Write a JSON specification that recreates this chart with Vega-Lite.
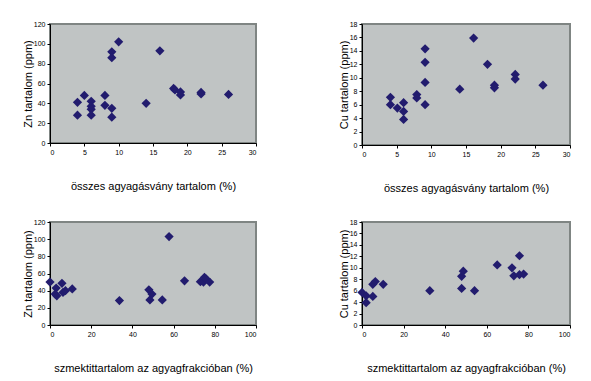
{
  "$schema": "https://vega.github.io/schema/vega-lite/v6.json",
  "background": "white",
  "padding": {"left": 21, "top": 19, "right": 5, "bottom": 5},
  "config": {
    "font": "Liberation Sans",
    "view": {"fill": "#c0c4c4", "stroke": "#7f8583", "strokeWidth": 2},
    "axis": {
      "grid": false,
      "domainColor": "black",
      "tickColor": "black",
      "tickSize": 3,
      "labelFontSize": 7,
      "labelColor": "black",
      "labelPadding": 2,
      "titleFontSize": 11,
      "titleFontWeight": "normal",
      "titleColor": "black"
    },
    "axisX": {"titlePadding": 25},
    "axisY": {"titlePadding": 0}
  },
  "datasets": {
    "zn_clay": [
      {"x": 4, "y": 41}, {"x": 4, "y": 28}, {"x": 5, "y": 48}, {"x": 6, "y": 42},
      {"x": 6, "y": 37}, {"x": 6, "y": 34}, {"x": 6, "y": 28}, {"x": 8, "y": 48},
      {"x": 8, "y": 38}, {"x": 9, "y": 35}, {"x": 9, "y": 26}, {"x": 9, "y": 92},
      {"x": 9, "y": 86}, {"x": 10, "y": 102}, {"x": 14, "y": 40}, {"x": 16, "y": 93},
      {"x": 18, "y": 55}, {"x": 18.2, "y": 53.5}, {"x": 19, "y": 51.5}, {"x": 19, "y": 48.5},
      {"x": 22, "y": 51}, {"x": 22, "y": 49.5}, {"x": 26, "y": 49}
    ],
    "cu_clay": [
      {"x": 4.1, "y": 7.1}, {"x": 4.1, "y": 6.0}, {"x": 5.1, "y": 5.5}, {"x": 6, "y": 6.3},
      {"x": 6, "y": 5.0}, {"x": 6, "y": 3.8}, {"x": 7.9, "y": 7.5}, {"x": 7.9, "y": 7.0},
      {"x": 9.1, "y": 14.3}, {"x": 9.1, "y": 12.3}, {"x": 9.1, "y": 9.3}, {"x": 9.1, "y": 6.0},
      {"x": 14.1, "y": 8.3}, {"x": 16.1, "y": 15.9}, {"x": 18.1, "y": 12.0}, {"x": 19.1, "y": 8.9},
      {"x": 19.1, "y": 8.5}, {"x": 22.1, "y": 10.5}, {"x": 22.1, "y": 9.8}, {"x": 26.1, "y": 8.9}
    ],
    "zn_smec": [
      {"x": 0, "y": 50}, {"x": 3, "y": 43}, {"x": 3.3, "y": 34}, {"x": 2.5, "y": 36},
      {"x": 5.8, "y": 48.5}, {"x": 6.3, "y": 38}, {"x": 7.5, "y": 40}, {"x": 10.8, "y": 42},
      {"x": 33.7, "y": 28.4}, {"x": 48, "y": 41}, {"x": 48.5, "y": 29.2}, {"x": 49.5, "y": 36},
      {"x": 54.5, "y": 29.2}, {"x": 57.8, "y": 103}, {"x": 65.3, "y": 51.5}, {"x": 73, "y": 50.5},
      {"x": 74.5, "y": 50}, {"x": 75, "y": 55.5}, {"x": 75.8, "y": 53.5}, {"x": 77.5, "y": 50}
    ],
    "cu_smec": [
      {"x": 0, "y": 5.7}, {"x": 2, "y": 5.1}, {"x": 2, "y": 3.9}, {"x": 5.2, "y": 7.1},
      {"x": 6.4, "y": 7.6}, {"x": 5.2, "y": 5.0}, {"x": 10.2, "y": 7.1}, {"x": 32.6, "y": 6.0},
      {"x": 47.9, "y": 8.5}, {"x": 48.7, "y": 9.4}, {"x": 47.9, "y": 6.4}, {"x": 54.1, "y": 6.0},
      {"x": 65, "y": 10.5}, {"x": 72.1, "y": 10.0}, {"x": 73, "y": 8.6}, {"x": 75.7, "y": 12.1},
      {"x": 75.7, "y": 8.8}, {"x": 77.7, "y": 8.9}
    ]
  },
  "spacing": 23,
  "vconcat": [
    {
      "spacing": 79,
      "hconcat": [
        {
          "width": 206, "height": 119,
          "data": {"name": "zn_clay"},
          "mark": {"type": "point", "shape": "diamond", "filled": true, "size": 85, "color": "#221c6e", "opacity": 1},
          "encoding": {
            "x": {"field": "x", "type": "quantitative", "scale": {"domain": [0, 30], "nice": false}, "axis": {"values": [0, 5, 10, 15, 20, 25, 30], "title": "összes agyagásvány tartalom (%)"}},
            "y": {"field": "y", "type": "quantitative", "scale": {"domain": [0, 120], "nice": false}, "axis": {"values": [0, 20, 40, 60, 80, 100, 120], "title": "Zn tartalom (ppm)"}}
          }
        },
        {
          "width": 208, "height": 121,
          "data": {"name": "cu_clay"},
          "mark": {"type": "point", "shape": "diamond", "filled": true, "size": 85, "color": "#221c6e", "opacity": 1},
          "encoding": {
            "x": {"field": "x", "type": "quantitative", "scale": {"domain": [0, 30], "nice": false}, "axis": {"values": [0, 5, 10, 15, 20, 25, 30], "title": "összes agyagásvány tartalom (%)"}},
            "y": {"field": "y", "type": "quantitative", "scale": {"domain": [0, 18], "nice": false}, "axis": {"values": [0, 2, 4, 6, 8, 10, 12, 14, 16, 18], "title": "Cu tartalom (ppm)"}}
          }
        }
      ]
    },
    {
      "spacing": 79,
      "hconcat": [
        {
          "width": 206, "height": 103,
          "data": {"name": "zn_smec"},
          "mark": {"type": "point", "shape": "diamond", "filled": true, "size": 85, "color": "#221c6e", "opacity": 1},
          "encoding": {
            "x": {"field": "x", "type": "quantitative", "scale": {"domain": [0, 100], "nice": false}, "axis": {"values": [0, 20, 40, 60, 80, 100], "title": "szmektittartalom az agyagfrakcióban (%)"}},
            "y": {"field": "y", "type": "quantitative", "scale": {"domain": [0, 120], "nice": false}, "axis": {"values": [0, 20, 40, 60, 80, 100, 120], "title": "Zn tartalom (ppm)"}}
          }
        },
        {
          "width": 208, "height": 103,
          "data": {"name": "cu_smec"},
          "mark": {"type": "point", "shape": "diamond", "filled": true, "size": 85, "color": "#221c6e", "opacity": 1},
          "encoding": {
            "x": {"field": "x", "type": "quantitative", "scale": {"domain": [0, 100], "nice": false}, "axis": {"values": [0, 20, 40, 60, 80, 100], "title": "szmektittartalom az agyagfrakcióban (%)"}},
            "y": {"field": "y", "type": "quantitative", "scale": {"domain": [0, 18], "nice": false}, "axis": {"values": [0, 2, 4, 6, 8, 10, 12, 14, 16, 18], "title": "Cu tartalom (ppm)"}}
          }
        }
      ]
    }
  ]
}
